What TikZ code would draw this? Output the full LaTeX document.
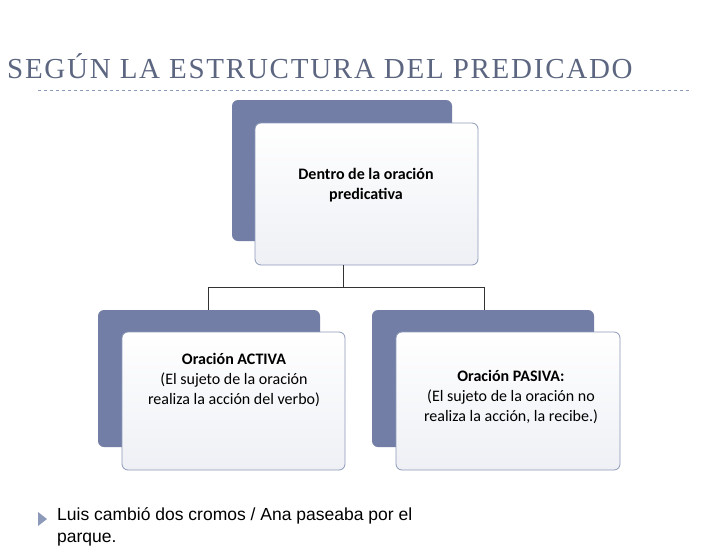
\documentclass[tikz,border=0pt]{standalone}
\usepackage{fontspec}
\setmainfont{Carlito}
\newfontfamily\titlefont[LetterSpace=6]{Liberation Serif}
\newfontfamily\bodyfont{Liberation Sans}
\begin{document}
\begin{tikzpicture}[x=1pt,y=-1pt,
  darkbox/.style={fill=darkblue,draw=none,rounded corners=6pt},
  lightbox/.style={draw=edgeblue,line width=0.8pt,rounded corners=6pt,top color=white,bottom color=lightfill},
  boxtext/.style={align=center,font=\fontsize{16}{20}\selectfont,text=black},
  conn/.style={draw=black!80,line width=0.8pt}]
\definecolor{darkblue}{HTML}{737EA6}
\definecolor{edgeblue}{HTML}{8C99B8}
\definecolor{lightfill}{HTML}{EEF0F5}
\definecolor{titleblue}{HTML}{5C6680}
\useasboundingbox (0,0) rectangle (728,546);
\fill[white] (0,0) rectangle (728,546);
\node[anchor=west,inner sep=0pt,text=titleblue,font=\titlefont\fontsize{29}{32}\selectfont] (title) at (7,66) {SEGÚN LA ESTRUCTURA DEL PREDICADO};
\draw[edgeblue,dashed,line width=0.5pt] (38,90) -- (690,90);
% top
\path[darkbox] (232,100) rectangle (452,241);
\path[lightbox] (255,123) rectangle (478,265);
\node[boxtext] (top) at (366,185) {\textbf{Dentro de la oración}\\\textbf{predicativa}};
\coordinate (tb) at (343,265);
% left
\path[darkbox] (98,310) rectangle (320,447);
\path[lightbox] (122,332) rectangle (345,470);
\node[boxtext] (left) at (234,380) {\textbf{Oración ACTIVA}\\(El sujeto de la oración\\realiza la acción del verbo)};
\coordinate (lt) at (208,310);
% right
\path[darkbox] (372,310) rectangle (594,447);
\path[lightbox] (396,332) rectangle (620,470);
\node[boxtext] (right) at (511,397) {\textbf{Oración PASIVA:}\\(El sujeto de la oración no\\realiza la acción, la recibe.)};
\coordinate (rt) at (484,310);
\draw[conn] (tb) -- (343,287) -| (lt);
\draw[conn] (343,287) -| (rt);
% bullet
\fill[edgeblue] (38,512) -- (47,519) -- (38,526) -- cycle;
\node[anchor=north west,inner sep=0pt,font=\bodyfont\fontsize{17.5}{22}\selectfont,align=left] (txt) at (57,507) {Luis cambió dos cromos / Ana paseaba por el\\parque.};
\end{tikzpicture}
\end{document}
